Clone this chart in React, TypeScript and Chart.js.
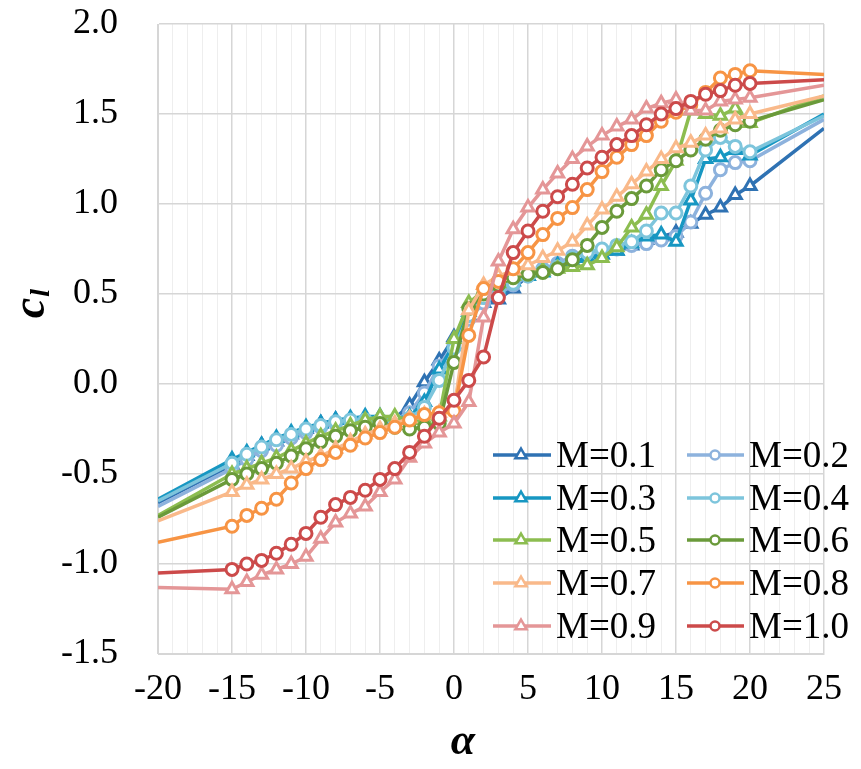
import React, { useEffect, useRef } from "react";
import { Chart, registerables } from "chart.js";
Chart.register(...registerables);

const ALPHA = [-20, -15, -14, -13, -12, -11, -10, -9, -8, -7, -6, -5, -4, -3, -2, -1, 0, 1, 2, 3, 4, 5, 6, 7, 8, 9, 10, 11, 12, 13, 14, 15, 16, 17, 18, 19, 20, 25];

const M01 = [-0.66, -0.45, -0.40, -0.34, -0.32, -0.28, -0.25, -0.22, -0.20, -0.20, -0.19, -0.19, -0.19, -0.12, 0.01, 0.13, 0.26, 0.38, 0.45, 0.47, 0.53, 0.60, 0.63, 0.66, 0.68, 0.70, 0.72, 0.74, 0.77, 0.80, 0.82, 0.84, 0.89, 0.94, 0.98, 1.05, 1.10, 1.42];
const M02 = [-0.68, -0.47, -0.42, -0.37, -0.34, -0.30, -0.27, -0.24, -0.22, -0.21, -0.21, -0.20, -0.20, -0.16, -0.05, 0.10, 0.22, 0.36, 0.45, 0.50, 0.55, 0.60, 0.64, 0.67, 0.71, 0.73, 0.74, 0.75, 0.77, 0.78, 0.80, 0.82, 0.90, 1.06, 1.19, 1.23, 1.24, 1.47];
const M03 = [-0.64, -0.42, -0.38, -0.34, -0.30, -0.27, -0.24, -0.22, -0.20, -0.19, -0.18, -0.18, -0.19, -0.18, -0.10, 0.08, 0.22, 0.40, 0.50, 0.53, 0.57, 0.60, 0.62, 0.66, 0.68, 0.70, 0.72, 0.74, 0.78, 0.82, 0.83, 0.79, 1.02, 1.25, 1.26, 1.30, 1.27, 1.50];
const M04 = [-0.65, -0.44, -0.39, -0.35, -0.31, -0.28, -0.25, -0.23, -0.21, -0.20, -0.20, -0.20, -0.20, -0.19, -0.13, 0.02, 0.20, 0.38, 0.48, 0.52, 0.56, 0.60, 0.63, 0.65, 0.70, 0.73, 0.75, 0.77, 0.79, 0.85, 0.95, 0.95, 1.10, 1.30, 1.37, 1.32, 1.29, 1.49];
const M05 = [-0.73, -0.50, -0.47, -0.44, -0.41, -0.37, -0.33, -0.29, -0.26, -0.23, -0.20, -0.18, -0.18, -0.20, -0.20, -0.18, 0.25, 0.45, 0.52, 0.56, 0.60, 0.62, 0.63, 0.64, 0.65, 0.66, 0.70, 0.76, 0.87, 0.94, 1.10, 1.24, 1.52, 1.50, 1.49, 1.53, 1.45, 1.60];
const M06 = [-0.74, -0.53, -0.50, -0.47, -0.44, -0.40, -0.36, -0.32, -0.29, -0.26, -0.24, -0.22, -0.24, -0.25, -0.24, -0.22, 0.12, 0.42, 0.50, 0.55, 0.59, 0.61, 0.62, 0.64, 0.69, 0.77, 0.87, 0.96, 1.03, 1.10, 1.19, 1.24, 1.30, 1.36, 1.41, 1.44, 1.46, 1.58];
const M07 = [-0.76, -0.60, -0.56, -0.53, -0.50, -0.47, -0.43, -0.40, -0.36, -0.32, -0.28, -0.25, -0.22, -0.19, -0.17, -0.16, -0.14, 0.41, 0.55, 0.60, 0.63, 0.66, 0.70, 0.74, 0.79, 0.88, 0.97, 1.04, 1.11, 1.18, 1.25, 1.31, 1.34, 1.38, 1.42, 1.47, 1.50, 1.60];
const M08 = [-0.88, -0.79, -0.73, -0.69, -0.64, -0.55, -0.47, -0.42, -0.38, -0.34, -0.30, -0.27, -0.24, -0.20, -0.17, -0.16, -0.15, 0.27, 0.53, 0.57, 0.64, 0.73, 0.83, 0.92, 0.98, 1.08, 1.18, 1.26, 1.33, 1.38, 1.46, 1.51, 1.55, 1.62, 1.70, 1.72, 1.74, 1.72];
const M09 = [-1.13, -1.14, -1.10, -1.06, -1.03, -1.00, -0.96, -0.86, -0.77, -0.72, -0.68, -0.60, -0.53, -0.41, -0.33, -0.27, -0.22, -0.10, 0.37, 0.68, 0.86, 0.98, 1.08, 1.17, 1.25, 1.32, 1.38, 1.43, 1.47, 1.53, 1.56, 1.58, 1.52, 1.52, 1.57, 1.58, 1.59, 1.66];
const M10 = [-1.05, -1.03, -1.00, -0.98, -0.94, -0.89, -0.83, -0.74, -0.67, -0.63, -0.59, -0.53, -0.47, -0.38, -0.29, -0.19, -0.09, 0.02, 0.15, 0.48, 0.73, 0.85, 0.96, 1.04, 1.11, 1.20, 1.26, 1.33, 1.38, 1.44, 1.50, 1.53, 1.57, 1.61, 1.63, 1.66, 1.67, 1.69];

const SERIES = [M01, M02, M03, M04, M05, M06, M07, M08, M09, M10];
const NAMES = ["M=0.1", "M=0.2", "M=0.3", "M=0.4", "M=0.5", "M=0.6", "M=0.7", "M=0.8", "M=0.9", "M=1.0"];
const COLORS = ["#2f72b3", "#8db2dd", "#1797c2", "#7dc5dc", "#8cbd50", "#6a9a3a", "#f9b98a", "#f79444", "#e49697", "#cc4a4a"];
const X_TICK_STEP = 1;
const Y_TICKS = [-1.5, -1.0, -0.5, 0.0, 0.5, 1.0, 1.5, 2.0];

const FONT = "'Liberation Serif', 'Times New Roman', serif";

function drawMarker(c: CanvasRenderingContext2D, style: string, x: number, y: number, r: number, color: string, lw: number) {
  c.save();
  c.beginPath();
  if (style === "triangle") {
    let rad = 0;
    c.moveTo(x + Math.sin(rad) * r, y - Math.cos(rad) * r);
    rad += (2 * Math.PI) / 3;
    c.lineTo(x + Math.sin(rad) * r, y - Math.cos(rad) * r);
    rad += (2 * Math.PI) / 3;
    c.lineTo(x + Math.sin(rad) * r, y - Math.cos(rad) * r);
    c.closePath();
  } else {
    c.arc(x, y, r, 0, Math.PI * 2);
  }
  c.fillStyle = "#ffffff";
  c.fill();
  c.lineWidth = lw;
  c.strokeStyle = color;
  c.stroke();
  c.restore();
}

export default function App() {
  const ref = useRef<HTMLCanvasElement>(null);
  useEffect(() => {
    const canvas = ref.current!;
    const datasets = SERIES.map((vals, i) => ({
      label: NAMES[i],
      data: ALPHA.map((a, j) => ({ x: a, y: vals[j] })),
      borderColor: COLORS[i],
      backgroundColor: "#ffffff",
      pointBorderColor: COLORS[i],
      pointBackgroundColor: "#ffffff",
      pointStyle: i % 2 === 0 ? "triangle" : "circle",
      pointRadius: ALPHA.map((a) => (a < -15 || a > 20 ? 0 : i % 2 === 0 ? 7 : 6)),
      pointBorderWidth: 3,
      borderWidth: 3.5,
      tension: 0,
      order: 10 - i,
    }));

    const overlay = {
      id: "overlay",
      afterDraw(chart: any) {
        const c: CanvasRenderingContext2D = chart.ctx;
        c.save();
        const rows = [447, 490, 532, 575, 618];
        const cols = [
          { x0: 485, x1: 543, m: 513, t: 548 },
          { x0: 679, x1: 736, m: 707, t: 741 },
        ];
        for (let i = 0; i < NAMES.length; i++) {
          const r = Math.floor(i / 2);
          const col = cols[i % 2];
          const y = rows[r];
          c.beginPath();
          c.moveTo(col.x0, y);
          c.lineTo(col.x1, y);
          c.strokeStyle = COLORS[i];
          c.lineWidth = 3.5;
          c.stroke();
          if (i % 2 === 0) drawMarker(c, "triangle", col.m, y, 6.5, COLORS[i], 2.5);
          else drawMarker(c, "circle", col.m, y, 4.5, COLORS[i], 2.5);
          c.fillStyle = "#000";
          c.font = `37px ${FONT}`;
          c.textAlign = "left";
          c.textBaseline = "middle";
          c.fillText(NAMES[i], col.t, y + 2);
        }
        c.fillStyle = "#000";
        c.font = `italic bold 44px ${FONT}`;
        c.textAlign = "center";
        c.textBaseline = "middle";
        c.fillText("α", 455, 735);
        c.translate(24, 300);
        c.rotate(-Math.PI / 2);
        c.font = `italic bold 46px ${FONT}`;
        c.textAlign = "center";
        c.textBaseline = "middle";
        c.fillText("c", 0, 0);
        const cw = c.measureText("c").width;
        c.font = `italic bold 28px ${FONT}`;
        c.textAlign = "left";
        c.fillText("l", cw / 2 + 1, 10);
        c.restore();
      },
    };

    const chart = new Chart(canvas, {
      type: "line",
      data: { datasets } as any,
      options: {
        responsive: false,
        animation: false,
        layout: { padding: { top: 16, right: 29, left: 0, bottom: 0 } },
        plugins: { legend: { display: false }, tooltip: { enabled: false } },
        scales: {
          x: {
            type: "linear",
            min: -20,
            max: 25,
            afterFit(s: any) {
              s.height = 107;
              s.paddingLeft = 0;
              s.paddingRight = 0;
            },
            ticks: {
              stepSize: X_TICK_STEP,
              autoSkip: false,
              maxRotation: 0,
              minRotation: 0,
              callback: (v: any) => (Number(v) % 5 === 0 ? String(v) : ""),
              font: { family: FONT, size: 36 },
              color: "#000",
              padding: 14,
            },
            grid: {
              color: (ctx: any) => (ctx.tick && Number(ctx.tick.value) % 5 === 0 ? "#d6d6d6" : "#eeeeee"),
              lineWidth: (ctx: any) => (ctx.tick && Number(ctx.tick.value) % 5 === 0 ? 1.5 : 1),
              drawTicks: false,
            },
            border: { display: true, color: "#d6d6d6" },
          },
          y: {
            type: "linear",
            min: -1.5,
            max: 2.0,
            afterFit(s: any) {
              s.width = 150;
              s.paddingTop = 0;
              s.paddingBottom = 0;
            },
            afterBuildTicks(s: any) {
              s.ticks = Y_TICKS.map((v) => ({ value: v }));
            },
            ticks: {
              callback: (v: any) => Number(v).toFixed(1),
              font: { family: FONT, size: 36 },
              color: "#000",
              padding: 40,
            },
            grid: { color: "#d6d6d6", lineWidth: 1.5, drawTicks: false },
            border: { display: true, color: "#d6d6d6" },
          },
        },
      } as any,
      plugins: [overlay],
    });
    return () => chart.destroy();
  }, []);
  return <canvas ref={ref} width={845} height={753} style={{ display: "block" }} />;
}
